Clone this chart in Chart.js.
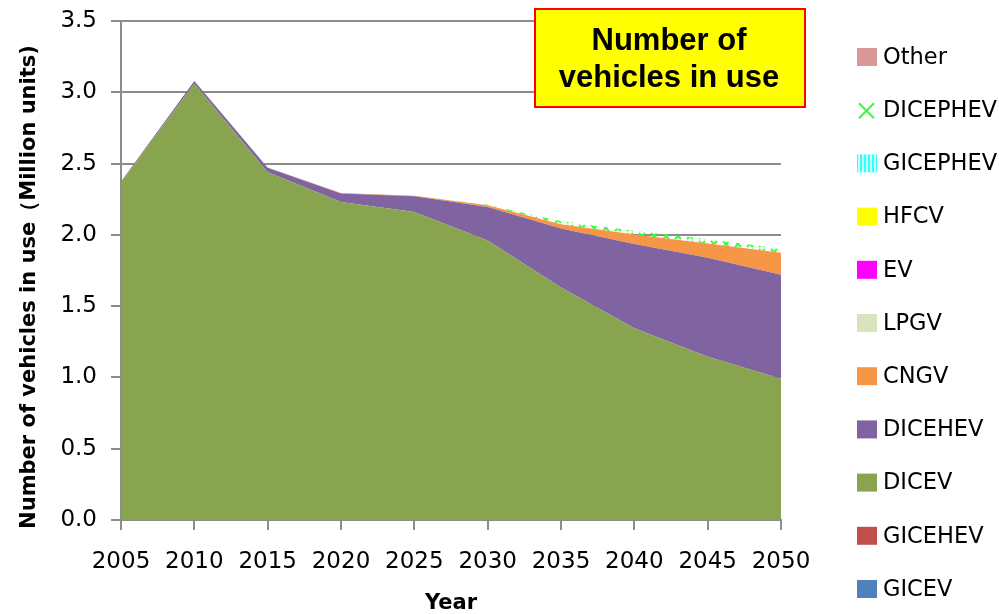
<!doctype html>
<html lang="en">
<head>
<meta charset="utf-8">
<title>Number of vehicles in use</title>
<script src="https://cdn.jsdelivr.net/npm/chart.js"></script>
<style>
    body { margin: 0; background: #fff; }
    #wrap { width: 999px; height: 614px; position: relative; }
</style>
</head>
<body>

<div id="wrap"><canvas id="myChart"></canvas></div>

<script>
    // categories and tick labels
    const years = ['2005', '2010', '2015', '2020', '2025', '2030', '2035', '2040', '2045', '2050'];
    const yTicks = [0, 0.5, 1.0, 1.5, 2.0, 2.5, 3.0, 3.5];

    // vehicles in use, million units (stacked, bottom layer first)
    const gicev    = [0, 0, 0, 0, 0, 0, 0, 0, 0, 0];
    const gicehev  = [0, 0, 0, 0, 0, 0, 0, 0, 0, 0];
    const dicev    = [2.37, 3.06, 2.44, 2.23, 2.16, 1.96, 1.63, 1.345, 1.145, 0.99];
    const dicehev  = [0.005, 0.02, 0.03, 0.06, 0.11, 0.235, 0.415, 0.59, 0.695, 0.73];
    const cngv     = [0, 0, 0.003, 0.004, 0.005, 0.013, 0.03, 0.068, 0.10, 0.155];
    const lpgv     = [0, 0, 0, 0, 0, 0, 0, 0, 0, 0];
    const ev       = [0, 0, 0, 0, 0, 0, 0, 0, 0, 0];
    const hfcv     = [0, 0, 0, 0, 0, 0, 0, 0, 0, 0];
    const gicephev = [0, 0, 0, 0, 0, 0, 0, 0, 0, 0];
    const dicephev = [0, 0, 0, 0, 0, 0.004, 0.02, 0.025, 0.03, 0.03];
    const other    = [0, 0, 0, 0, 0, 0, 0, 0, 0, 0];

    function stripePattern() {
        const c = document.createElement('canvas');
        c.width = 4; c.height = 4;
        const g = c.getContext('2d');
        g.fillStyle = '#c8ffff';
        g.fillRect(0, 0, 4, 4);
        g.fillStyle = '#33ffff';
        g.fillRect(0, 0, 2, 4);
        return g.createPattern(c, 'repeat');
    }

    function crossPattern() {
        const c = document.createElement('canvas');
        c.width = 12; c.height = 8;
        const g = c.getContext('2d');
        g.strokeStyle = '#33ff33';
        g.lineWidth = 2;
        g.beginPath();
        g.moveTo(3, 1); g.lineTo(9, 7);
        g.moveTo(9, 1); g.lineTo(3, 7);
        g.stroke();
        return g.createPattern(c, 'repeat');
    }

    const series = [
        {label: 'GICEV', data: gicev, color: '#4f81bd'},
        {label: 'GICEHEV', data: gicehev, color: '#c0504d'},
        {label: 'DICEV', data: dicev, color: '#88a44e'},
        {label: 'DICEHEV', data: dicehev, color: '#8064a2'},
        {label: 'CNGV', data: cngv, color: '#f79646'},
        {label: 'LPGV', data: lpgv, color: '#d7e4bd'},
        {label: 'EV', data: ev, color: '#ff00ff'},
        {label: 'HFCV', data: hfcv, color: '#ffff00'},
        {label: 'GICEPHEV', data: gicephev, color: stripePattern()},
        {label: 'DICEPHEV', data: dicephev, color: crossPattern()},
        {label: 'Other', data: other, color: '#d99795'}
    ];

    const datasets = series.map((s, i) => ({
        label: s.label,
        data: s.data,
        backgroundColor: s.color,
        borderWidth: 0,
        pointRadius: 0,
        tension: 0,
        fill: i === 0 ? 'origin' : '-1'
    }));

    // legend on the right, title box and y title
    const decorations = {
        id: 'decorations',
        afterDraw(chart) {
            const ctx = chart.ctx;
            const ds = chart.data.datasets;
            ctx.save();
            ctx.textBaseline = 'middle';
            ctx.font = '22.5px "DejaVu Sans"';
            for (let k = 0; k < ds.length; k++) {
                const d = ds[ds.length - 1 - k];
                const y = 57 + k * 53.2;
                if (d.label === 'DICEPHEV') {
                    ctx.strokeStyle = '#33ff33';
                    ctx.lineWidth = 2;
                    ctx.beginPath();
                    ctx.moveTo(859, y - 7); ctx.lineTo(874, y + 8);
                    ctx.moveTo(874, y - 7); ctx.lineTo(859, y + 8);
                    ctx.stroke();
                } else {
                    ctx.fillStyle = d.backgroundColor;
                    ctx.fillRect(857, y - 9, 20, 18);
                }
                ctx.fillStyle = '#000';
                ctx.textAlign = 'left';
                ctx.fillText(d.label, 883, y + 1);
            }

            ctx.fillStyle = '#ffff00';
            ctx.fillRect(535, 9, 270, 98);
            ctx.strokeStyle = '#ff0000';
            ctx.lineWidth = 2;
            ctx.strokeRect(535, 9, 270, 98);
            ctx.fillStyle = '#000';
            ctx.textAlign = 'center';
            ctx.font = 'bold 31px "Liberation Sans"';
            ctx.fillText('Number of', 669, 41);
            ctx.fillText('vehicles in use', 669, 78);

            ctx.translate(30, 287);
            ctx.rotate(-Math.PI / 2);
            ctx.font = 'bold 21px "DejaVu Sans"';
            ctx.fillText('Number of vehicles in use（Million units)', 0, 0);
            ctx.restore();
        }
    };

    const myChart = new Chart(document.getElementById('myChart'), {
        type: 'line',
        data: {labels: years, datasets: datasets},
        options: {
            responsive: true,
            maintainAspectRatio: false,
            animation: false,
            layout: {padding: {left: 0, right: 218, top: 21, bottom: 0}},
            plugins: {
                legend: {display: false},
                tooltip: {enabled: false}
            },
            scales: {
                x: {
                    grid: {drawOnChartArea: false, color: '#8c8c8c', lineWidth: 2, tickLength: 10},
                    border: {color: '#8c8c8c', width: 2},
                    ticks: {color: '#000', font: {family: 'DejaVu Sans', size: 23}, padding: 18, maxRotation: 0, autoSkip: false},
                    title: {display: true, text: 'Year', color: '#000', font: {family: 'DejaVu Sans', size: 21, weight: 'bold', lineHeight: 1.0}, padding: 0},
                    afterFit: function (scale) { scale.height = 94; }
                },
                y: {
                    stacked: true,
                    min: 0,
                    max: 3.5,
                    afterBuildTicks: function (scale) { scale.ticks = yTicks.map(v => ({value: v})); },
                    grid: {color: '#8c8c8c', lineWidth: 2, tickLength: 10},
                    border: {color: '#8c8c8c', width: 2},
                    ticks: {color: '#000', font: {family: 'DejaVu Sans', size: 23}, padding: 14, callback: v => v.toFixed(1)},
                    afterFit: function (scale) {
                        scale.width = 121;
                        scale.paddingTop = 0;
                        scale.paddingBottom = 0;
                    }
                }
            }
        },
        plugins: [decorations]
    });
</script>

</body>
</html>
